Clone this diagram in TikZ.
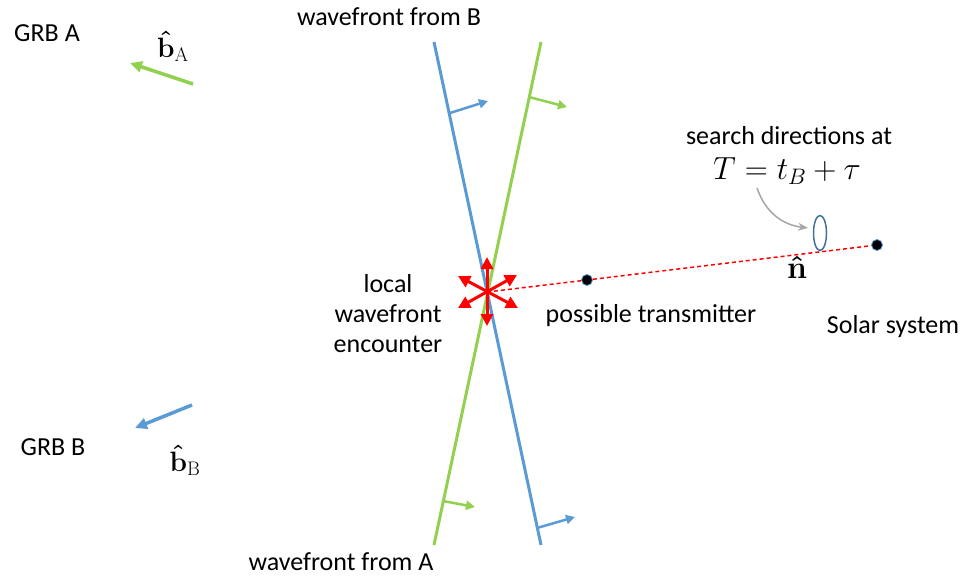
\RequirePackage{fix-cm}
\documentclass[tikz,border=0pt]{standalone}
\usepackage{amsmath}
\usepackage[no-math]{fontspec}
\setmainfont{Carlito}
\usetikzlibrary{arrows.meta,shapes.geometric}
\definecolor{wblue}{RGB}{91,155,213}
\definecolor{wgreen}{RGB}{146,208,80}
\definecolor{eblue}{RGB}{65,113,156}
\definecolor{garrow}{RGB}{166,166,166}
\tikzset{
  wave/.style={line width=3pt},
  tickarrow/.style={line width=2.5pt,-{Triangle[length=9pt,width=9pt]}},
  bigarrow/.style={line width=3.5pt,-{Triangle[length=12pt,width=11pt]}},
  redarrow/.style={red,line width=3pt,{Triangle[length=12pt,width=12pt]}-{Triangle[length=12pt,width=12pt]}},
  lbl/.style={font=\fontsize{26}{31}\selectfont,inner sep=0pt,align=center},
  mlbl/.style={font=\fontsize{28}{32}\selectfont,inner sep=0pt},
  dotnode/.style={circle,fill=black,draw=wblue,line width=0.8pt,minimum size=11pt,inner sep=0pt},
}
\begin{document}
\begin{tikzpicture}[x=1pt,y=-1pt]
\useasboundingbox (0,0) rectangle (968,580);
% wavefront lines
\coordinate (bT) at (434,42);
\coordinate (bB) at (541,545);
\coordinate (gT) at (541,42);
\coordinate (gB) at (434,545);
\draw[wave,wblue] (bT) -- (bB);
\draw[wave,wgreen] (gT) -- (gB);
% tick arrows
\coordinate (t1s) at (450,113); \coordinate (t1e) at (488,101);
\coordinate (t2s) at (529,97);  \coordinate (t2e) at (567,107);
\coordinate (t3s) at (443,501); \coordinate (t3e) at (475,507);
\coordinate (t4s) at (537,528); \coordinate (t4e) at (575,517);
\draw[tickarrow,wblue] (t1s) -- (t1e);
\draw[tickarrow,wgreen] (t2s) -- (t2e);
\draw[tickarrow,wgreen] (t3s) -- (t3e);
\draw[tickarrow,wblue] (t4s) -- (t4e);
% b arrows
\coordinate (bAs) at (193,84); \coordinate (bAe) at (130,63);
\coordinate (bBs) at (192,405); \coordinate (bBe) at (135,428);
\draw[bigarrow,wgreen] (bAs) -- (bAe);
\draw[bigarrow,wblue] (bBs) -- (bBe);
% dashed line and dots
\coordinate (ctr) at (487,292);
\node[dotnode] (sol) at (877,245) {};
\node[dotnode] (tx) at (587,280) {};
\draw[red,line width=1.5pt,dash pattern=on 4pt off 3pt] (ctr) -- (tx) -- (sol);
% star
\coordinate (s1) at (487,257); \coordinate (s2) at (487,326);
\coordinate (s3) at (458,276); \coordinate (s4) at (518,308);
\coordinate (s5) at (517,275); \coordinate (s6) at (458,308);
\draw[redarrow] (s1) -- (s2);
\draw[redarrow] (s3) -- (s4);
\draw[redarrow] (s5) -- (s6);
% ellipse
\node[ellipse,draw=eblue,line width=1.5pt,minimum width=13pt,minimum height=35pt,inner sep=0pt] (ell) at (820,233) {};
% labels
\node[lbl] (grba) at (47,33) {GRB A};
\node[mlbl] (ba) at (173,46) {$\boldsymbol{\hat{\mathbf{b}}}_{\mathrm{A}}$};
\node[lbl] (grbb) at (53,447) {GRB B};
\node[mlbl] (bb) at (185,460) {$\boldsymbol{\hat{\mathbf{b}}}_{\mathrm{B}}$};
\node[lbl] (wfb) at (389,17) {wavefront from B};
\node[lbl] (wfa) at (341,562) {wavefront from A};
\node[lbl] (loc) at (388,314) {local\\[-1pt]wavefront\\[-1pt]encounter};
\node[lbl] (ptx) at (651,316) {possible transmitter};
\node[lbl] (ss) at (893,327) {Solar system};
\node[lbl] (sd) at (789,136) {search directions at};
\node[mlbl,font=\fontsize{32}{36}\selectfont] (teq) at (787,171) {$T=t_B+\tau$};
\node[mlbl,font=\fontsize{32}{36}\selectfont] (nhat) at (797,267) {$\boldsymbol{\hat{\mathbf{n}}}$};
% gray arrow
\coordinate (ga) at (757,188);
\coordinate (gb) at (808,228);
\draw[garrow,line width=1.5pt,-{Stealth[length=10pt,width=8pt]}] (ga) .. controls (766,214) and (784,225) .. (gb);
\end{tikzpicture}
\end{document}
